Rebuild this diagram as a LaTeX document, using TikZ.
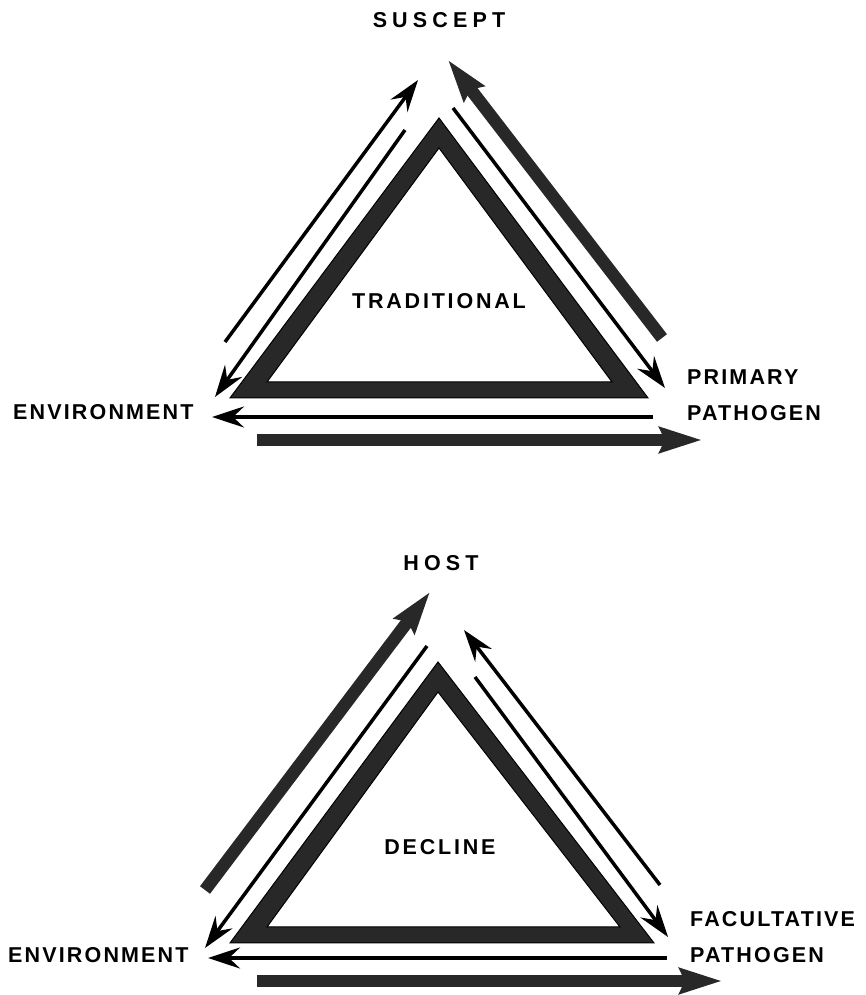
\documentclass[tikz,border=0pt]{standalone}
\usepackage{fontspec}
\setsansfont{Liberation Sans}
\newfontfamily\cornerfont{Liberation Sans}[LetterSpace=10]
\newfontfamily\innerfont{Liberation Sans}[LetterSpace=13]
\newfontfamily\apexfont{Liberation Sans}[LetterSpace=24]
\usetikzlibrary{arrows.meta, positioning}
\usepackage{xcolor}
\definecolor{grain}{RGB}{40,40,40}

\begin{document}
\begin{tikzpicture}[
                line join=miter,
                thinarrow/.style={line width=3.5pt, -{Stealth[length=32pt, width=21pt, inset=11pt]}},
                thickarrow/.style={grain, line width=12.5pt, -{Stealth[length=42pt, width=25pt, inset=5pt]}},
                band/.style={fill=grain, draw=black, line width=1pt, even odd rule},
                cornerlabel/.style={font=\cornerfont\bfseries\fontsize{21.5pt}{36pt}\selectfont, inner sep=0pt, align=left},
                innerlabel/.style={font=\innerfont\bfseries\fontsize{21.5pt}{25pt}\selectfont, inner sep=0pt},
                apexlabel/.style={font=\apexfont\bfseries\fontsize{21.5pt}{25pt}\selectfont, inner sep=0pt}
                ]
                \useasboundingbox (0pt, 0pt) rectangle (866pt, 995pt);

                %% Traditional
                \path[band] (439pt, 877pt) -- (230pt, 597pt) -- (648pt, 597pt) -- cycle
                            (439pt, 847pt) -- (267pt, 613pt) -- (612pt, 613pt) -- cycle;
                \node[innerlabel] (traditional) at (439pt, 694pt) {TRADITIONAL};
                \node[apexlabel] (suscept) at (439pt, 975pt) {SUSCEPT};
                \node[cornerlabel, anchor=west] (envtop) at (13pt, 583pt) {ENVIRONMENT};
                \node[cornerlabel, anchor=west] (primary) at (687pt, 600pt) {PRIMARY\\PATHOGEN};

                        % Arrow ends
                \coordinate (tLoutA) at (225pt, 653pt);  \coordinate (tLoutB) at (418pt, 915pt);
                \coordinate (tLinA) at (405pt, 865pt);   \coordinate (tLinB) at (215pt, 598pt);
                \coordinate (tRoutA) at (662pt, 657pt);  \coordinate (tRoutB) at (448pt, 935pt);
                \coordinate (tRinA) at (453pt, 887pt);   \coordinate (tRinB) at (665pt, 607pt);
                \coordinate (tBthinA) at (653pt, 578pt); \coordinate (tBthinB) at (212pt, 578pt);
                \coordinate (tBthickA) at (257pt, 555pt); \coordinate (tBthickB) at (702pt, 555pt);

\draw[thinarrow] (tLoutA) -- (tLoutB);
\draw[thinarrow] (tLinA) -- (tLinB);
\draw[thickarrow] (tRoutA) -- (tRoutB);
\draw[thinarrow] (tRinA) -- (tRinB);
\draw[thinarrow] (tBthinA) -- (tBthinB);
\draw[thickarrow] (tBthickA) -- (tBthickB);

                %% Decline
                \path[band] (438pt, 333pt) -- (230pt, 52pt) -- (654pt, 52pt) -- cycle
                            (438pt, 303pt) -- (267pt, 68pt) -- (620pt, 68pt) -- cycle;
                \node[innerlabel] (decline) at (440pt, 148pt) {DECLINE};
                \node[apexlabel] (host) at (441pt, 432pt) {HOST};
                \node[cornerlabel, anchor=west] (envbottom) at (8pt, 40pt) {ENVIRONMENT};
                \node[cornerlabel, anchor=west] (facultative) at (690pt, 58pt) {FACULTATIVE\\PATHOGEN};

                        % Arrow ends
                \coordinate (bLoutA) at (205pt, 105pt);  \coordinate (bLoutB) at (430pt, 403pt);
                \coordinate (bLinA) at (427pt, 349pt);   \coordinate (bLinB) at (205pt, 47pt);
                \coordinate (bRoutA) at (660pt, 110pt);  \coordinate (bRoutB) at (464pt, 365pt);
                \coordinate (bRinA) at (475pt, 318pt);   \coordinate (bRinB) at (668pt, 58pt);
                \coordinate (bBthinA) at (667pt, 37pt);  \coordinate (bBthinB) at (208pt, 37pt);
                \coordinate (bBthickA) at (257pt, 14pt); \coordinate (bBthickB) at (722pt, 14pt);

\draw[thickarrow] (bLoutA) -- (bLoutB);
\draw[thinarrow] (bLinA) -- (bLinB);
\draw[thinarrow] (bRoutA) -- (bRoutB);
\draw[thinarrow] (bRinA) -- (bRinB);
\draw[thinarrow] (bBthinA) -- (bBthinB);
\draw[thickarrow] (bBthickA) -- (bBthickB);
                    \end{tikzpicture}
\end{document}
